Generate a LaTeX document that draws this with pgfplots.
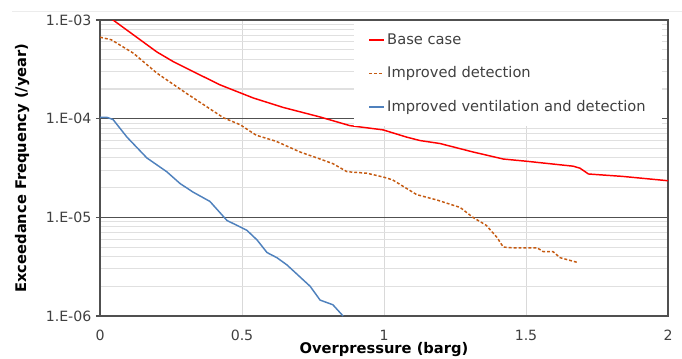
\documentclass[border=0pt]{standalone}
\usepackage{pgfplots}
\pgfplotsset{compat=1.18}
\usepackage{fontspec}
\setmainfont{DejaVu Sans}
\definecolor{basered}{HTML}{FF0000}
\definecolor{detorange}{HTML}{C55A11}
\definecolor{ventblue}{HTML}{4F81BD}
\definecolor{darkgrid}{HTML}{505050}
\definecolor{ticktext}{HTML}{404040}
\definecolor{lightgrid}{HTML}{D9D9D9}
\definecolor{minorgrid}{HTML}{E0E0E0}
\begin{document}
\begin{tikzpicture}
\useasboundingbox (0,0) rectangle (511.5pt,268.5pt);
\draw[gray!15, line width=0.6pt] (9pt,260.25pt) -- (511.5pt,260.25pt);
\begin{axis}[
  at={(75pt,31.5pt)}, anchor=south west,
  scale only axis, width=426pt, height=222pt,
  ymode=log, xmin=0, xmax=2, ymin=1e-6, ymax=1e-3,
  xtick={0,0.5,1,1.5,2}, xticklabels={0,0.5,1,1.5,2},
  ytick={1e-6,1e-5,1e-4,1e-3}, yticklabels={1.E-06,1.E-05,1.E-04,1.E-03},
  minor ytick={2e-6,3e-6,4e-6,5e-6,6e-6,7e-6,8e-6,9e-6,2e-5,3e-5,4e-5,5e-5,6e-5,7e-5,8e-5,9e-5,2e-4,3e-4,4e-4,5e-4,6e-4,7e-4,8e-4,9e-4},
  xmajorgrids, ymajorgrids, yminorgrids,
  major x grid style={color=lightgrid, line width=0.6pt},
  major y grid style={color=darkgrid, line width=1.1pt},
  minor y grid style={color=minorgrid, line width=0.8pt},
  axis line style={color=darkgrid, line width=1.2pt},
  xtick style={draw=none}, minor tick style={draw=none},
  ytick style={color=darkgrid, line width=0.8pt},
  ytick pos=left, tick align=outside, major tick length=3pt,
  tick label style={font=\fontsize{10.6}{12}\selectfont, text=ticktext},
  xticklabel style={yshift=-4pt},
  label style={font=\bfseries\fontsize{11}{13}\selectfont},
  xlabel={Overpressure (barg)},
  ylabel={Exceedance Frequency (/year)},
  xlabel style={at={(axis description cs:0.5,-0.113)}, anchor=center},
  ylabel style={at={(axis description cs:-0.137,0.5)}, anchor=center},
  legend cell align=left,
  legend style={at={(0.447,0.996)}, anchor=north west, draw=none, fill=white,
    font=\fontsize{11}{13}\selectfont, text=ticktext, row sep=11.5pt, inner xsep=10.5pt, inner ysep=7pt},
  legend image code/.code={\draw[#1, line width=1.3pt] (0pt,0pt) -- (11pt,0pt);},
]
\addplot[basered, line width=1.1pt] coordinates {
(0,1.15e-3) (0.046,1.0e-3) (0.2,4.75e-4) (0.257,3.8e-4) (0.328,3.0e-4) (0.423,2.2e-4)
(0.469,1.95e-4) (0.54,1.62e-4) (0.645,1.3e-4) (0.775,1.04e-4) (0.88,8.5e-5)
(0.997,7.7e-5) (1.08,6.5e-5) (1.127,6.0e-5) (1.197,5.6e-5) (1.313,4.6e-5)
(1.42,3.9e-5) (1.503,3.7e-5) (1.666,3.3e-5) (1.69,3.15e-5) (1.72,2.75e-5)
(1.84,2.6e-5) (2.0,2.35e-5)};
\addlegendentry{Base case}
\addplot[detorange, line width=1.1pt, dash pattern=on 2.2pt off 1.5pt] coordinates {
(0,6.7e-4) (0.04,6.3e-4) (0.118,4.6e-4) (0.2,2.9e-4) (0.305,1.8e-4) (0.435,1.02e-4)
(0.493,8.7e-5) (0.55,6.8e-5) (0.62,5.9e-5) (0.704,4.6e-5) (0.775,3.9e-5)
(0.82,3.5e-5) (0.87,2.9e-5) (0.94,2.8e-5) (1.0,2.55e-5) (1.03,2.4e-5)
(1.115,1.7e-5) (1.186,1.5e-5) (1.268,1.26e-5) (1.313,1.0e-5) (1.36,8.3e-6)
(1.397,6.3e-6) (1.42,5.0e-6) (1.455,4.9e-6) (1.54,4.9e-6) (1.56,4.5e-6)
(1.595,4.5e-6) (1.62,3.9e-6) (1.68,3.5e-6)};
\addlegendentry{Improved detection}
\addplot[ventblue, line width=1.1pt] coordinates {
(0,1.03e-4) (0.025,1.03e-4) (0.046,9.8e-5) (0.095,6.5e-5) (0.165,4.0e-5) (0.235,2.9e-5)
(0.282,2.2e-5) (0.328,1.8e-5) (0.387,1.45e-5) (0.447,9.3e-6) (0.517,7.4e-6)
(0.553,5.9e-6) (0.588,4.4e-6) (0.623,3.9e-6) (0.658,3.3e-6) (0.74,2.0e-6)
(0.775,1.45e-6) (0.82,1.3e-6) (0.856,1.0e-6)};
\addlegendentry{Improved ventilation and detection}
\end{axis}
\end{tikzpicture}
\end{document}
